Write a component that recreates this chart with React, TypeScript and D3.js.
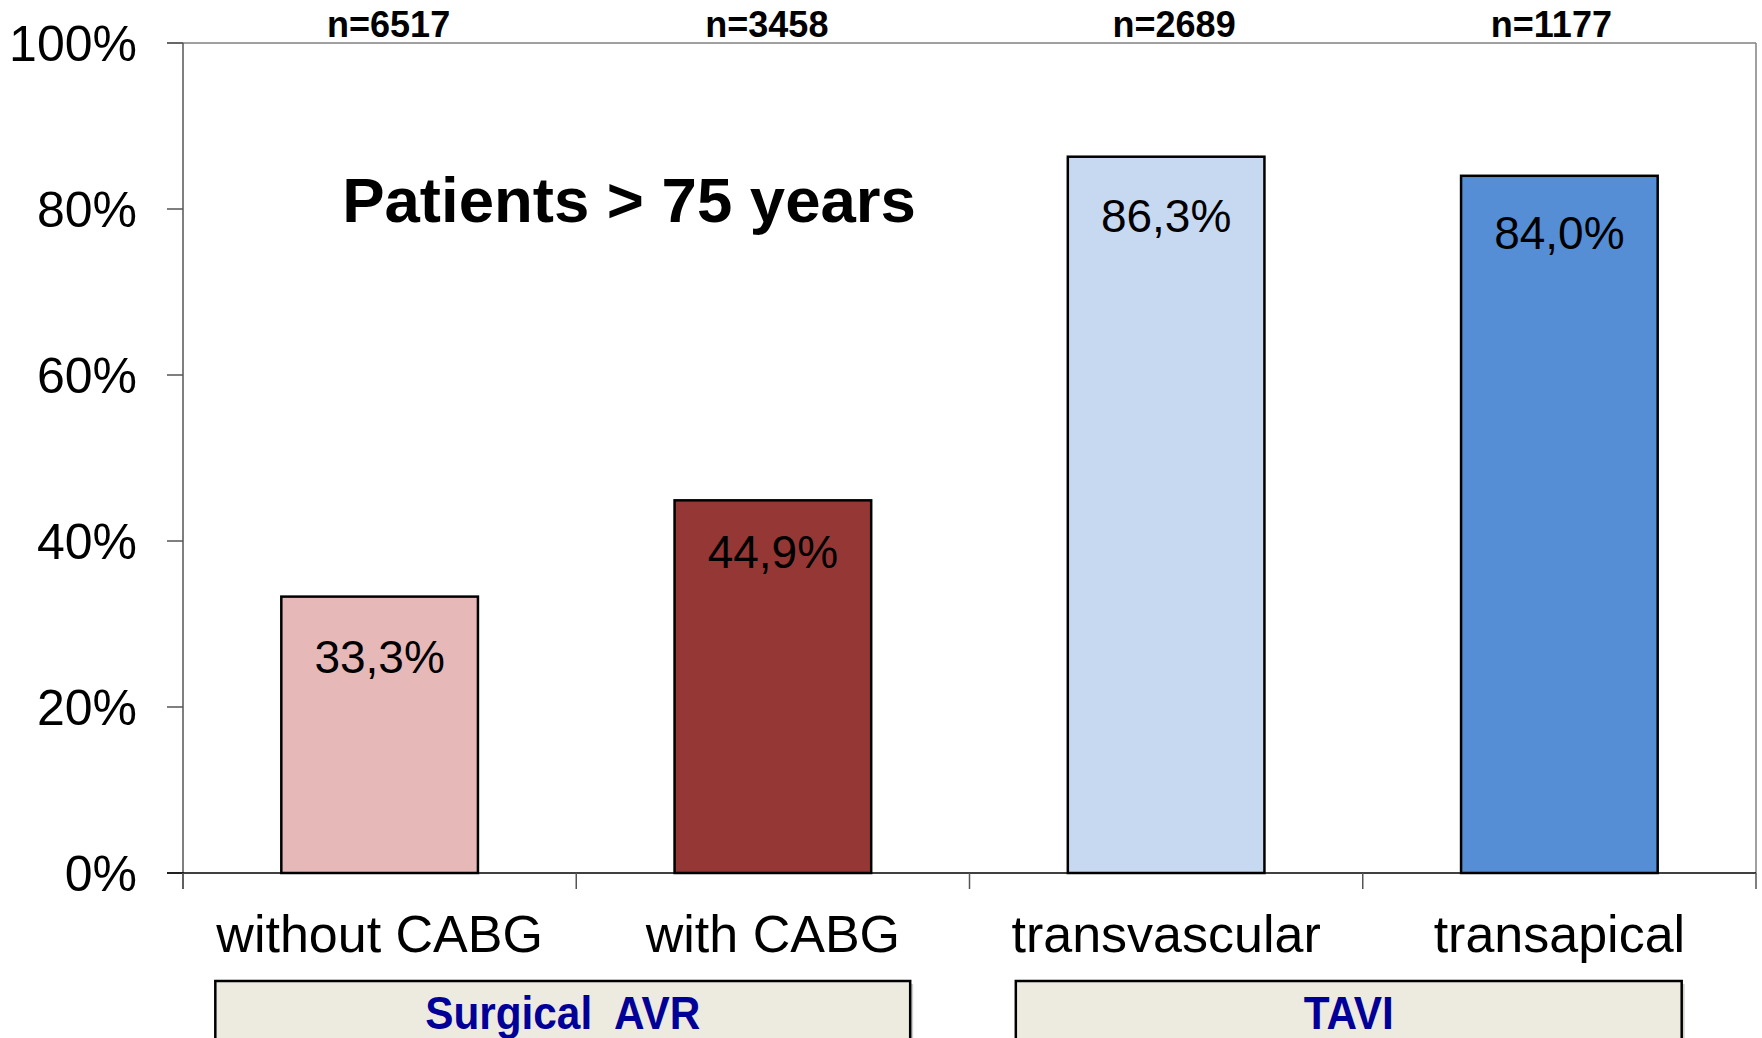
import React from "react";
import * as d3 from "d3";

const categories = ["without CABG", "with CABG", "transvascular", "transapical"];
const values = [33.3, 44.9, 86.3, 84.0];
const valueLabels = ["33,3%", "44,9%", "86,3%", "84,0%"];
const nLabels = ["n=6517", "n=3458", "n=2689", "n=1177"];
const colors = ["#E6B9B8", "#953735", "#C6D9F1", "#558ED5"];
const yTicks = [0, 20, 40, 60, 80, 100];
const groupLabels = ["Surgical  AVR", "TAVI"];
const groupFrom = [0, 2];
const groupTo = [1, 3];
const title = "Patients > 75 years";

// layout tweaks (pixels)
const valueLabelDy = [76, 68, 75, 73];
const nLabelDx = [9, -6, 8, -8];
const groupPadLeft = [66, 52];
const groupPadRight = [39, 24];

const W = 1762;
const H = 1038;
const left = 183;
const right = 1756;
const top = 43;
const bottom = 873;
const font = "Arial, 'Liberation Sans', sans-serif";

export default function App() {
  const x = d3.scaleBand<string>().domain(categories).range([left, right]).paddingInner(0.5).paddingOuter(0.25);
  const y = d3.scaleLinear().domain([0, 100]).range([bottom, top]);
  const step = x.step();
  const boundaries = d3.range(categories.length + 1).map((i) => left + i * step);

  return (
    <svg width={W} height={H} style={{ position: "absolute", left: 0, top: 0, background: "#fff" }}>
      {/* frame */}
      <line x1={167} x2={right} y1={y(100)} y2={y(100)} stroke="#808080" strokeWidth={1.5} />
      <line x1={right} x2={right} y1={y(100)} y2={bottom} stroke="#808080" strokeWidth={1.5} />
      <line x1={left} x2={left} y1={y(100)} y2={bottom + 16} stroke="#555" strokeWidth={1.5} />
      {yTicks.map((t) => (
        <g key={t}>
          <line x1={167} x2={left} y1={y(t)} y2={y(t)} stroke="#555" strokeWidth={1.5} />
          <text x={137} y={y(t) + 18} textAnchor="end" fontFamily={font} fontSize={50} fill="#000">
            {t}%
          </text>
        </g>
      ))}
      {/* bars */}
      {categories.map((c, i) => {
        const cx = (x(c) as number) + x.bandwidth() / 2;
        return (
          <g key={c}>
            <rect
              x={x(c)}
              y={y(values[i])}
              width={x.bandwidth()}
              height={bottom - y(values[i])}
              fill={colors[i]}
              stroke="#000"
              strokeWidth={2.5}
            />
            <text x={cx} y={y(values[i]) + valueLabelDy[i]} textAnchor="middle" fontFamily={font} fontSize={46} fill="#000">
              {valueLabels[i]}
            </text>
            <text
              x={cx + nLabelDx[i]}
              y={37}
              textAnchor="middle"
              fontFamily={font}
              fontWeight="bold"
              fontSize={36}
              fill="#000"
            >
              {nLabels[i]}
            </text>
            <text x={cx} y={952} textAnchor="middle" fontFamily={font} fontSize={52} fill="#000">
              {c}
            </text>
          </g>
        );
      })}
      {/* x axis */}
      <line x1={167} x2={right} y1={bottom} y2={bottom} stroke="#000" strokeWidth={1.5} />
      {boundaries.map((b, i) => (
        <line key={i} x1={b} x2={b} y1={bottom} y2={bottom + 16} stroke="#555" strokeWidth={1.5} />
      ))}
      {/* title */}
      <text x={629} y={222} textAnchor="middle" fontFamily={font} fontWeight="bold" fontSize={63.5} fill="#000">
        {title}
      </text>
      {/* group boxes */}
      {groupLabels.map((label, i) => {
        const x0 = (x(categories[groupFrom[i]]) as number) - groupPadLeft[i];
        const x1 = (x(categories[groupTo[i]]) as number) + x.bandwidth() + groupPadRight[i];
        const cx = (x0 + x1) / 2;
        return (
          <g key={i}>
            <rect x={x0 + 3} y={984} width={x1 - x0} height={70} fill="#B0B0B0" opacity={0.6} />
            <rect x={x0} y={981} width={x1 - x0} height={70} fill="#EDEBE0" stroke="#000" strokeWidth={2.5} />
            <text
              transform={`translate(${cx},1029) scale(0.92,1)`}
              textAnchor="middle"
              fontFamily={font}
              fontWeight="bold"
              fontSize={46}
              fill="#000099"
              style={{ whiteSpace: "pre" }}
            >
              {label}
            </text>
          </g>
        );
      })}
    </svg>
  );
}
